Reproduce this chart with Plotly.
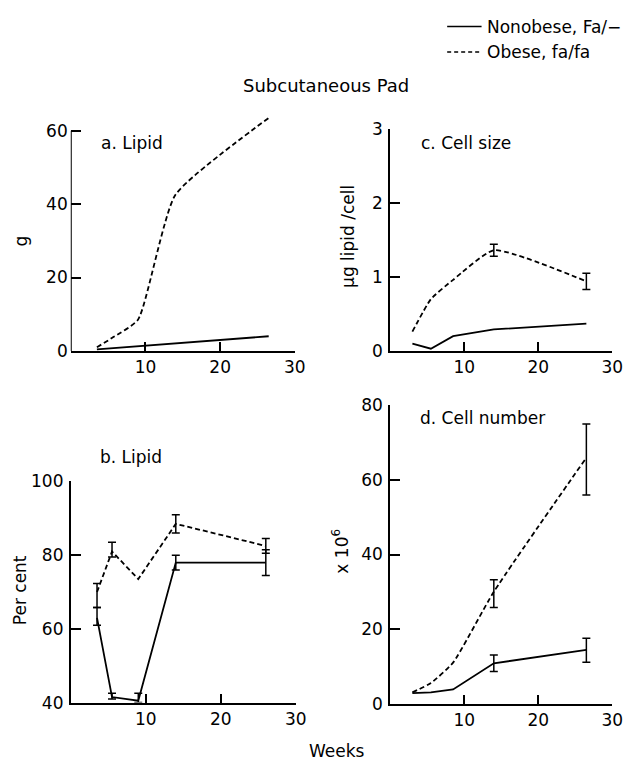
import plotly.graph_objects as go

# ---------------- data ----------------
weeks_a = [3.5, 5.5, 9, 14, 26.5]
lipid_g_nonobese = [0.4, 0.7, 1.2, 2.0, 4.0]
lipid_g_obese = [1.0, 3.5, 8.5, 42.5, 63.5]

weeks_b = [3.5, 5.5, 9, 14, 26]
lipid_pct_nonobese = [63, 41.5, 40.5, 78, 78]
lipid_pct_nonobese_errp = [2.8, 1.0, 2.0, 2.0, 3.5]
lipid_pct_nonobese_errm = [2.0, 0.5, 0.5, 2.0, 3.5]
lipid_pct_obese = [70, 81, 73.5, 88.5, 82.5]
lipid_pct_obese_errp = [2.3, 2.5, None, 2.5, 2.0]
lipid_pct_obese_errm = [4.2, 1.5, None, 2.5, 2.0]

weeks_c = [3, 5.5, 8.5, 14, 26.5]
cellsize_nonobese = [0.10, 0.03, 0.20, 0.29, 0.37]
cellsize_obese = [0.26, 0.70, 0.96, 1.36, 0.94]
cellsize_obese_err = [None, None, None, 0.08, 0.11]

weeks_d = [3, 5.5, 8.5, 14, 26.5]
cellnum_nonobese = [2.8, 3.0, 3.8, 10.8, 14.4]
cellnum_nonobese_errp = [None, None, None, 2.2, 3.1]
cellnum_nonobese_errm = [None, None, None, 2.2, 3.3]
cellnum_obese = [3.0, 5.5, 11.0, 30.0, 66.0]
cellnum_obese_errp = [None, None, None, 3.2, 9.0]
cellnum_obese_errm = [None, None, None, 4.2, 10.0]

x_ticks = [10, 20, 30]
y_ticks_a = [0, 20, 40, 60]
y_ticks_b = [40, 60, 80, 100]
y_ticks_c = [0, 1, 2, 3]
y_ticks_d = [0, 20, 40, 60, 80]

# ---------------- layout helpers ----------------
W, H = 639, 772
FONT = "DejaVu Sans"
FS = 17


def px_x(p):
    return p / W


def px_y(p):
    return 1 - p / H


DASH = "5px,3px"
LW = 1.8

fig = go.Figure()


def add_errors(xs, ys, errp, errm, xa, ya):
    idx = [i for i in range(len(xs)) if errp[i] is not None]
    if not idx:
        return
    fig.add_trace(go.Scatter(
        x=[xs[i] for i in idx], y=[ys[i] for i in idx], mode="markers",
        marker=dict(size=1, color="rgba(0,0,0,0)"), xaxis=xa, yaxis=ya,
        showlegend=False, hoverinfo="skip",
        error_y=dict(type="data", array=[errp[i] for i in idx],
                     arrayminus=[errm[i] for i in idx], symmetric=False,
                     color="black", thickness=1.5, width=4)))


def add_pair(xs, non, obs, xa, ya, non_err=None, obs_err=None, obese_shape="spline"):
    fig.add_trace(go.Scatter(x=xs, y=non, mode="lines", xaxis=xa, yaxis=ya,
                             line=dict(color="black", width=LW), showlegend=False,
                             name="Nonobese, Fa/−"))
    line_obs = dict(color="black", width=LW, dash=DASH, shape=obese_shape)
    if obese_shape == "spline":
        line_obs["smoothing"] = 0.5
    fig.add_trace(go.Scatter(x=xs, y=obs, mode="lines", xaxis=xa, yaxis=ya,
                             line=line_obs, showlegend=False, name="Obese, fa/fa"))
    if non_err is not None:
        add_errors(xs, non, non_err[0], non_err[1], xa, ya)
    if obs_err is not None:
        add_errors(xs, obs, obs_err[0], obs_err[1], xa, ya)


add_pair(weeks_a, lipid_g_nonobese, lipid_g_obese, "x", "y")
add_pair(weeks_c, cellsize_nonobese, cellsize_obese, "x2", "y2",
         obs_err=(cellsize_obese_err, cellsize_obese_err))
add_pair(weeks_b, lipid_pct_nonobese, lipid_pct_obese, "x3", "y3",
         non_err=(lipid_pct_nonobese_errp, lipid_pct_nonobese_errm),
         obs_err=(lipid_pct_obese_errp, lipid_pct_obese_errm), obese_shape="linear")
add_pair(weeks_d, cellnum_nonobese, cellnum_obese, "x4", "y4",
         non_err=(cellnum_nonobese_errp, cellnum_nonobese_errm),
         obs_err=(cellnum_obese_errp, cellnum_obese_errm))

tickfont = dict(family=FONT, size=FS, color="black")


def xaxis(left, right, anchor):
    return dict(domain=[px_x(left), px_x(right)], range=[0, 30], anchor=anchor,
                tickvals=x_ticks, ticks="inside", ticklen=9, tickwidth=1.6,
                tickcolor="black", showline=True, linecolor="black", linewidth=1.8,
                showgrid=False, zeroline=False, tickfont=tickfont, fixedrange=True)


def yaxis(top, bottom, rng, tv, anchor, showline=True):
    return dict(domain=[px_y(bottom), px_y(top)], range=rng, anchor=anchor,
                tickvals=tv, ticks="inside", ticklen=10, tickwidth=1.6,
                tickcolor="black", showline=showline, linecolor="black", linewidth=1.8,
                showgrid=False, zeroline=False, tickfont=tickfont, fixedrange=True,
                ticklabelstandoff=2)


# Panel a: axis 0-60 spans px 350 -> 124, extended to 64.5 so the curve isn't clipped
a_bottom, a_top60 = 350, 124
a_ymax = 64.5
a_top = a_bottom - (a_ymax / 60) * (a_bottom - a_top60)

fig.update_layout(
    width=W, height=H, autosize=False,
    margin=dict(l=0, r=0, t=0, b=0),
    paper_bgcolor="white", plot_bgcolor="white",
    font=dict(family=FONT, size=FS, color="black"),
    xaxis=xaxis(72, 300, "y"),
    yaxis=yaxis(a_top, a_bottom, [0, a_ymax], y_ticks_a, "x", showline=False),
    xaxis2=xaxis(397, 623, "y2"),
    yaxis2=yaxis(122, 350, [0, 3], y_ticks_c, "x2"),
    xaxis3=xaxis(72, 301, "y3"),
    yaxis3=yaxis(484, 711, [40, 100], y_ticks_b, "x3"),
    xaxis4=xaxis(397, 623, "y4"),
    yaxis4=yaxis(406, 712, [0, 80], y_ticks_d, "x4"),
)

shapes = [
    # y axis line of panel a (0-60 only)
    dict(type="line", xref="x", yref="y", x0=0, x1=0, y0=0, y1=60,
         line=dict(color="black", width=2)),
    # legend samples
    dict(type="line", xref="paper", yref="paper", x0=px_x(455), x1=px_x(490),
         y0=px_y(17), y1=px_y(17), line=dict(color="black", width=1.5)),
    dict(type="line", xref="paper", yref="paper", x0=px_x(455), x1=px_x(490),
         y0=px_y(43), y1=px_y(43), line=dict(color="black", width=1.5, dash="4px,3px")),
]
fig.update_layout(shapes=shapes)


def ann(text, x, y, xanchor="center", angle=0, size=FS):
    fig.add_annotation(text=text, x=px_x(x), y=px_y(y), xref="paper", yref="paper",
                       xanchor=xanchor, yanchor="middle", showarrow=False,
                       textangle=angle, font=dict(family=FONT, size=size, color="black"))


ann("Nonobese, Fa/−", 493, 17, xanchor="left")
ann("Obese, fa/fa", 493, 43, xanchor="left")
ann("Subcutaneous Pad", 332, 77, size=18)
ann("a. Lipid", 101, 137, xanchor="left")
ann("c. Cell size", 426, 137, xanchor="left")
ann("b. Lipid", 100, 459, xanchor="left")
ann("d. Cell number", 425, 419, xanchor="left")
ann("g", 21, 237, angle=-90)
ann("μg lipid /cell", 354, 232, angle=-90)
ann("Per cent", 20, 596, angle=-90)
ann("x 10<sup>6</sup>", 346, 556, angle=-90)
ann("Weeks", 343, 761)

fig.write_html("out.html", config={"displayModeBar": False},
               post_script="document.body.style.margin='0';")
